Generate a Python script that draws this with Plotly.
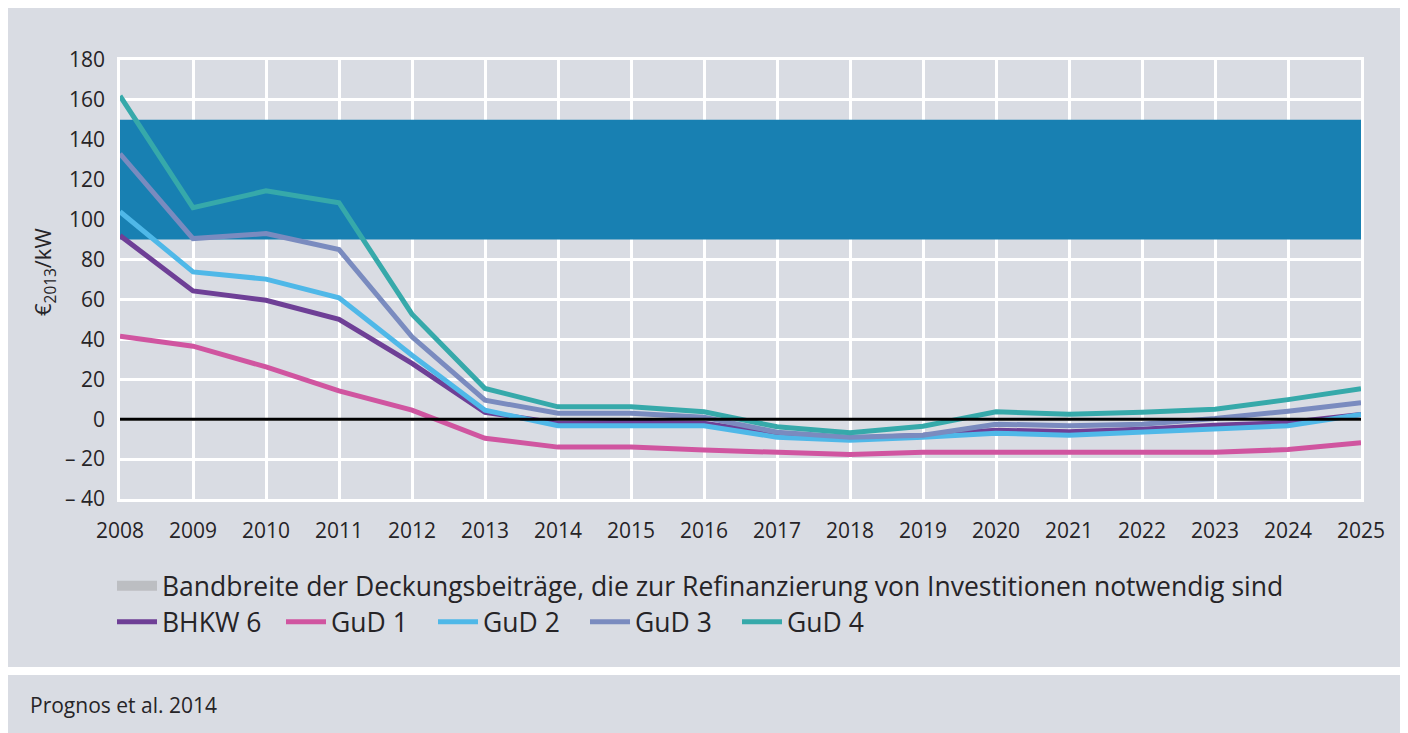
import plotly.graph_objects as go

years = list(range(2008, 2026))

bhkw6 = [92, 64.3, 59.6, 50, 28, 3.4, -2, -1.5, -2, -7.5, -9.5, -8, -5.5, -6.3, -5, -3, -1.7, 2.3]
gud1 = [41.6, 36.6, 26.2, 14.2, 4.5, -9.6, -14, -14, -15.5, -16.5, -17.7, -16.6, -16.6, -16.6, -16.6, -16.6, -15.2, -11.8]
gud2 = [104, 73.8, 70.2, 60.8, 32, 4.5, -3.3, -3.3, -3.3, -9, -10.5, -9, -7, -8, -6.5, -4.7, -3.3, 2.3]
gud3 = [133, 90.5, 93, 85, 41.3, 9.5, 3, 3, 1, -6.5, -9, -8, -2.5, -3.3, -2.5, 0.3, 4, 8.3]
gud4 = [162, 106, 114.4, 108.5, 52.6, 15.4, 6.2, 6.2, 3.7, -3.8, -6.8, -3.5, 3.7, 2.5, 3.5, 5, 9.8, 15.3]

band_low = 90
band_high = 150

series_names = ["BHKW 6", "GuD 1", "GuD 2", "GuD 3", "GuD 4"]
series_values = [bhkw6, gud1, gud2, gud3, gud4]
series_colors = ["#6e3f96", "#d055a0", "#4fb8e8", "#7a8bbf", "#36a9aa"]

band_label = "Bandbreite der Deckungsbeiträge, die zur Refinanzierung von Investitionen notwendig sind"
y_tickvals = [-40, -20, 0, 20, 40, 60, 80, 100, 120, 140, 160, 180]
y_ticktext = ["– 40", "– 20", "0", "20", "40", "60", "80", "100", "120", "140", "160", "180"]
y_title = "€<sub>2013</sub>/kW"
source_text = "Prognos et al. 2014"

# page geometry (pixels); the page body has an 8px margin
OFF = 8
PAGE_W, PAGE_H = 1408, 733
W, H = PAGE_W - OFF, PAGE_H - OFF
PLOT_L, PLOT_R, PLOT_T, PLOT_B = 120, 1361, 60, 499
L = PLOT_L - OFF
R = PAGE_W - PLOT_R
T = PLOT_T - OFF
B = PAGE_H - PLOT_B
PW, PH = W - L - R, H - T - B


def px(xpage):
    return (xpage - OFF - L) / PW


def py(ypage):
    return (H - B - (ypage - OFF)) / PH


FONT = "Open Sans"
TXT = "#262427"
PANEL = "#d9dce3"
BAND = "#1880b2"
LEG_FONT = 26.5

fig = go.Figure()

# band of required contribution margins
fig.add_trace(go.Scatter(x=[years[0], years[-1]], y=[band_low, band_low], mode="lines",
                         line=dict(width=0), showlegend=False, hoverinfo="skip"))
fig.add_trace(go.Scatter(x=[years[0], years[-1]], y=[band_high, band_high], mode="lines",
                         line=dict(width=0), fill="tonexty", fillcolor=BAND,
                         showlegend=False, hoverinfo="skip"))
# legend entry for the band (grey swatch as in the original)
fig.add_trace(go.Scatter(x=[None], y=[None], mode="lines",
                         line=dict(width=11, color="#bcbec2"),
                         name=band_label, legend="legend"))

for i, (name, vals, col) in enumerate(zip(series_names, series_values, series_colors)):
    fig.add_trace(go.Scatter(x=years, y=vals, mode="lines", name=name,
                             line=dict(color=col, width=5),
                             legend="legend2" if i == 0 else "legend3"))

shapes = [
    dict(type="rect", xref="paper", yref="paper", x0=px(OFF), x1=px(1403), y0=py(667), y1=py(OFF),
         fillcolor=PANEL, line=dict(width=0), layer="below"),
    dict(type="rect", xref="paper", yref="paper", x0=px(OFF), x1=px(1403), y0=py(PAGE_H), y1=py(675),
         fillcolor=PANEL, line=dict(width=0), layer="below"),
    dict(type="line", xref="x", yref="y", x0=years[0], x1=years[-1], y0=0, y1=0,
         line=dict(color="black", width=3), layer="above"),
]

leg_common = dict(orientation="h", xanchor="left", yanchor="middle",
                  bgcolor="rgba(0,0,0,0)", font=dict(size=LEG_FONT, color=TXT), itemwidth=40)

fig.update_layout(
    width=W, height=H,
    margin=dict(l=L, r=R, t=T, b=B, pad=0),
    paper_bgcolor="white",
    plot_bgcolor=PANEL,
    font=dict(family=FONT, color=TXT, size=21),
    shapes=shapes,
    showlegend=True,
    legend=dict(x=px(112), y=py(586), **leg_common),
    legend2=dict(x=px(112), y=py(622), **leg_common),
    legend3=dict(x=px(281), y=py(622), entrywidth=97, entrywidthmode="pixels", **leg_common),
    annotations=[
        dict(text=y_title, xref="paper", yref="paper", x=px(44), y=py(272), showarrow=False,
             textangle=-90, font=dict(size=22, color=TXT), xanchor="center", yanchor="middle"),
        dict(text=source_text, xref="paper", yref="paper", x=px(28), y=py(705), showarrow=False,
             font=dict(size=21, color=TXT), xanchor="left", yanchor="middle"),
    ],
)

fig.update_xaxes(range=[years[0], years[-1]], tickmode="array", tickvals=years,
                 ticktext=[str(y) for y in years], showgrid=True, gridcolor="white", gridwidth=2.5,
                 zeroline=False, showline=True, linecolor="white", linewidth=2.5, mirror=True,
                 ticks="", ticklabelstandoff=11, tickfont=dict(size=21, color=TXT))
fig.update_yaxes(range=[-40, 180], tickmode="array", tickvals=y_tickvals, ticktext=y_ticktext,
                 showgrid=True, gridcolor="white", gridwidth=2.5, zeroline=False,
                 showline=True, linecolor="white", linewidth=2.5, mirror=True,
                 ticks="", ticklabelstandoff=8, tickfont=dict(size=21, color=TXT))

fig.write_html("out.html")
